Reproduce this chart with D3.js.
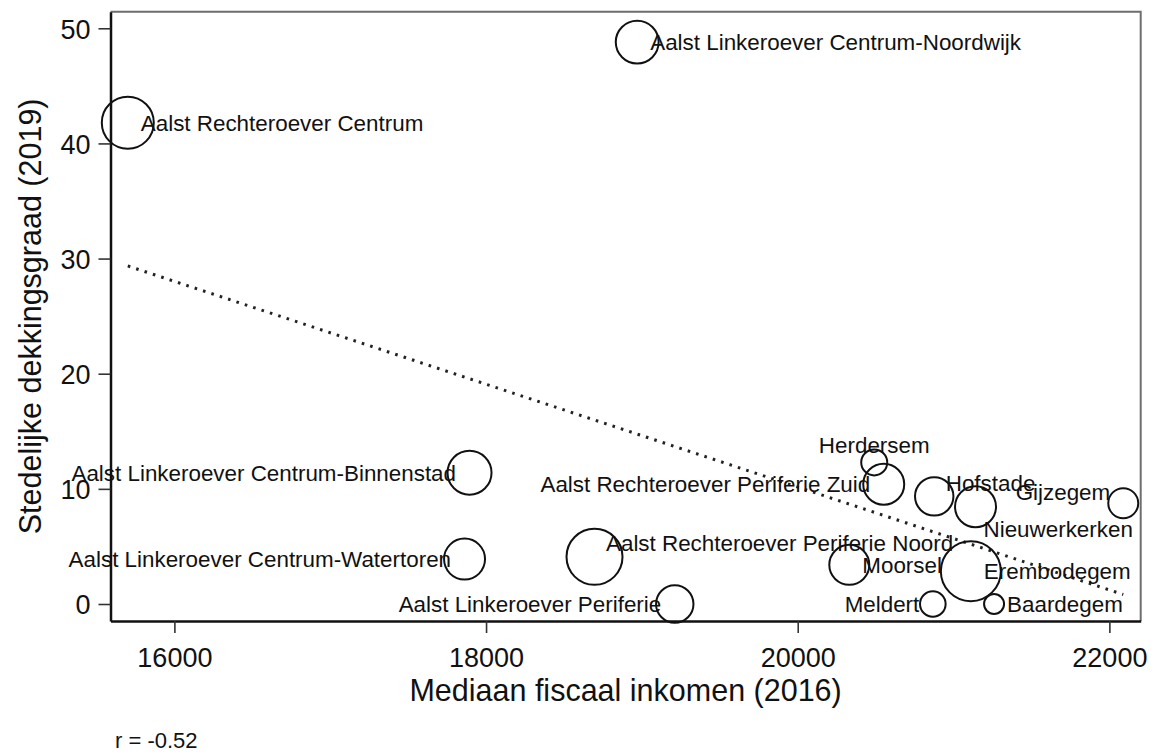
<!DOCTYPE html>
<html>
<head>
<meta charset="utf-8">
<script src="https://cdn.jsdelivr.net/npm/d3@7"></script>
<style>
  body { margin: 0; background: #fff; }
  text { font-family: "Liberation Sans", Arial, sans-serif; fill: #111; }
</style>
</head>
<body>
<svg id="chart" width="1158" height="756"></svg>
<script>
// wijken van Aalst
const wijken = [
  "Aalst Rechteroever Centrum", "Aalst Linkeroever Centrum-Noordwijk",
  "Aalst Linkeroever Centrum-Binnenstad", "Aalst Linkeroever Centrum-Watertoren",
  "Aalst Rechteroever Periferie Noord", "Aalst Linkeroever Periferie",
  "Herdersem", "Aalst Rechteroever Periferie Zuid", "Hofstade", "Nieuwerkerken",
  "Gijzegem", "Moorsel", "Erembodegem", "Meldert", "Baardegem"
];
// mediaan fiscaal inkomen 2016
const inkomen = [15701, 18970, 17894, 17862, 18696, 19211, 20491, 20552, 20876, 21141, 22089, 20331, 21111, 20867, 21260];
// stedelijke dekkingsgraad 2019
const dekking = [41.8, 48.8, 11.4, 3.9, 4.1, 0, 12.3, 10.4, 9.35, 8.45, 8.75, 3.4, 2.85, 0, 0];
// gewicht (bolgrootte)
const gewicht = [6760, 4600, 4840, 4200, 7840, 3500, 1690, 4200, 3690, 4200, 2250, 4000, 9000, 1640, 1000];
// label positie (klok)
const labelPos = [3, 3, 9, 9, 2, 9, 12, 9, 2, 4, 10, 3, 3, 9, 3];

const xTicks = [16000, 18000, 20000, 22000];
const yTicks = [0, 10, 20, 30, 40, 50];

const drawChart = () => {
  const svg = d3.select("#chart");
  const left = 110.5, right = 1140.7, top = 11.7, bottom = 621;

  const x = d3.scaleLinear().domain([15590, 22201]).range([left, right]);
  const y = d3.scaleLinear().domain([-1.476, 51.44]).range([bottom, top]);
  const r = d3.scaleSqrt().domain([0, 9000]).range([0, 30]);

  const data = wijken.map((d, i) => ({
    naam: d, x: inkomen[i], y: dekking[i], w: gewicht[i], pos: labelPos[i]
  }));

  // frame (top/right lighter)
  svg.append("path")
      .attr("d", `M${left},${top}H${right}V${bottom}`)
      .attr("fill", "none")
      .attr("stroke", "#6e6e6e")
      .attr("stroke-width", 2);

  const xAxis = svg.append("g")
      .attr("transform", `translate(0,${bottom})`)
      .call(d3.axisBottom(x).tickValues(xTicks).tickSize(12).tickSizeOuter(0).tickFormat(d3.format("d")));
  xAxis.select(".domain").attr("stroke", "#111").attr("stroke-width", 2.5);
  xAxis.selectAll(".tick line").attr("stroke", "#333").attr("stroke-width", 1.6);
  xAxis.selectAll(".tick text")
      .attr("y", 45.5).attr("dy", null)
      .style("font-size", "27px")
      .style("font-family", "'Liberation Sans', Arial, sans-serif")
      .attr("fill", "#111");

  const yAxis = svg.append("g")
      .attr("transform", `translate(${left},0)`)
      .call(d3.axisLeft(y).tickValues(yTicks).tickSize(12).tickSizeOuter(0));
  yAxis.select(".domain").attr("stroke", "#111").attr("stroke-width", 2.5);
  yAxis.selectAll(".tick line").attr("stroke", "#333").attr("stroke-width", 1.6);
  yAxis.selectAll(".tick text")
      .attr("x", -20).attr("dy", "0.36em")
      .style("font-size", "27px")
      .style("font-family", "'Liberation Sans', Arial, sans-serif")
      .attr("fill", "#111");

  // axis titles
  svg.append("text")
      .attr("x", (left + right) / 2)
      .attr("y", 701)
      .attr("text-anchor", "middle")
      .style("font-size", "30.5px")
      .text("Mediaan fiscaal inkomen (2016)");

  svg.append("text")
      .attr("transform", `translate(41,${(top + bottom) / 2}) rotate(-90)`)
      .attr("text-anchor", "middle")
      .style("font-size", "30.5px")
      .text("Stedelijke dekkingsgraad (2019)");

  // lineaire fit
  const mx = d3.mean(inkomen), my = d3.mean(dekking);
  const sxy = d3.sum(data, d => (d.x - mx) * (d.y - my));
  const sxx = d3.sum(data, d => (d.x - mx) ** 2);
  const syy = d3.sum(data, d => (d.y - my) ** 2);
  const slope = sxy / sxx;
  const corr = sxy / Math.sqrt(sxx * syy);
  const xr = d3.extent(inkomen);

  svg.append("line")
      .attr("x1", x(xr[0])).attr("y1", y(my + slope * (xr[0] - mx)))
      .attr("x2", x(xr[1])).attr("y2", y(my + slope * (xr[1] - mx)))
      .attr("stroke", "#222")
      .attr("stroke-width", 3)
      .attr("stroke-dasharray", "2.6 6.2");

  // bollen
  svg.selectAll("circle.bol")
      .data(data)
      .enter()
      .append("circle")
      .attr("class", "bol")
      .attr("cx", d => x(d.x))
      .attr("cy", d => y(d.y))
      .attr("r", d => r(d.w))
      .attr("fill", "none")
      .attr("stroke", "#111")
      .attr("stroke-width", 2);

  // label offsets per klokpositie
  const offs = {
    3: [13, 0, "start"], 9: [-13.5, 0, "end"], 12: [0, -17.5, "middle"],
    2: [11.5, -13.5, "start"], 10: [-13, -11.5, "end"], 4: [8, 22, "start"]
  };

  svg.selectAll("text.lbl")
      .data(data)
      .enter()
      .append("text")
      .attr("class", "lbl")
      .attr("x", d => x(d.x) + offs[d.pos][0])
      .attr("y", d => y(d.y) + offs[d.pos][1])
      .attr("dy", "0.36em")
      .attr("text-anchor", d => offs[d.pos][2])
      .style("font-size", "22.4px")
      .text(d => d.naam);

  svg.append("text")
      .attr("x", 115)
      .attr("y", 748)
      .style("font-size", "22px")
      .text("r = " + corr.toFixed(2));
};

(() => {
  drawChart();
})();
</script>
</body>
</html>
